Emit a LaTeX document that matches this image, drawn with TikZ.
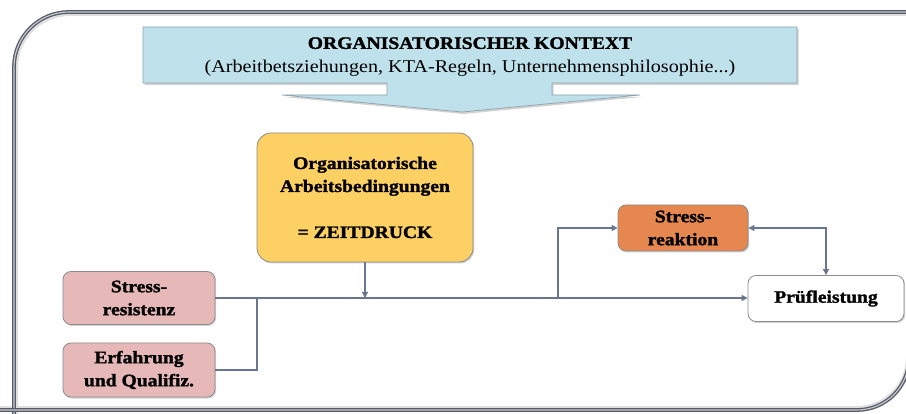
\documentclass[tikz,border=0pt]{standalone}
\usepackage{fontspec}
\setmainfont{Liberation Serif}[FakeStretch=1.12, BoldFeatures={FakeBold=1.5}]
\usetikzlibrary{arrows.meta,shadows,calc}
\definecolor{ctxblue}{HTML}{BEE1EB}
\definecolor{ctxborder}{HTML}{8FA3AE}
\definecolor{yellowf}{HTML}{FCD062}
\definecolor{pinkf}{HTML}{E6B9B8}
\definecolor{orangef}{HTML}{E5874F}
\definecolor{boxborder}{HTML}{8C8C8C}
\definecolor{connc}{HTML}{6A7590}
\definecolor{framec}{HTML}{555B6B}
\tikzset{
  box/.style={draw=boxborder, line width=0.8pt, rounded corners=8pt, align=center,
    font=\bfseries\fontsize{17.5}{23}\selectfont, inner sep=0pt,
    drop shadow={shadow xshift=1.2pt, shadow yshift=-1.5pt, opacity=0.35}},
  connline/.style={draw=connc, line width=1.1pt},
  conn/.style={connline, -{Triangle[width=6pt,length=6pt]}},
  conntwo/.style={connline, {Triangle[width=6pt,length=6pt]}-{Triangle[width=6pt,length=6pt]}},
  frameline/.style={draw=framec, line width=1.3pt, double=gray!40, double distance=1.1pt},
  frameshadow/.style={draw=gray!25, line width=6pt}
}
\begin{document}
\begin{tikzpicture}[x=1pt,y=-1pt]
\useasboundingbox[fill=white] (0,0) rectangle (906,414);
% outer frame
\draw[frameshadow, rounded corners=55pt] (15,440) -- (15,13) -- (930,13);
\draw[frameshadow, rounded corners=52pt] (-10,409) -- (909,409) -- (909,-10);
\draw[frameline, rounded corners=55pt] (14,440) -- (14,12) -- (930,12);
\draw[frameline, rounded corners=52pt] (-10,410) -- (909,410) -- (909,-10);
% context banner arrow
\filldraw[fill=ctxblue, draw=ctxborder, line width=0.7pt,
  drop shadow={shadow xshift=1.5pt, shadow yshift=-2pt, opacity=0.35}]
  (143,27) -- (797,27) -- (797,83) -- (552,83) -- (552,95) -- (640,95) -- (462,112)
  -- (282,95) -- (387,95) -- (387,83) -- (143,83) -- cycle;
\node[align=center, inner sep=0pt, font=\fontsize{18}{24}\selectfont] (ctx) at (470,57)
  {{\fontsize{17.5}{24}\selectfont\textbf{ORGANISATORISCHER KONTEXT}}\\(Arbeitbetsziehungen, KTA-Regeln, Unternehmensphilosophie...)};
% boxes
\node[box, fill=yellowf, minimum width=216pt, minimum height=129pt, rounded corners=14pt] (zeit) at (365,197.5)
  {Organisatorische\\Arbeitsbedingungen\\[23pt]= ZEITDRUCK};
\node[box, fill=pinkf, minimum width=152pt, minimum height=53pt] (stress) at (139,298) {Stress-\\resistenz};
\node[box, fill=pinkf, minimum width=152pt, minimum height=54pt] (erf) at (139,370) {Erfahrung\\und Qualifiz.};
\node[box, fill=orangef, minimum width=130pt, minimum height=46pt] (sr) at (683,228) {Stress-\\reaktion};
\node[box, fill=white, minimum width=156pt, minimum height=46pt] (pruef) at (826,298.5) {Prüfleistung};
% connectors
\coordinate (j2) at (257,298);
\coordinate (j3) at (558,298);
\draw[conn] (zeit.south) -- (zeit.south |- stress.east);
\draw[conn] (stress.east) -- (stress.east -| pruef.west);
\draw[connline] (erf.east) -| (j2);
\draw[conn] (j3) |- (sr.west);
\draw[conntwo] (sr.east) -| (pruef.north);
\end{tikzpicture}
\end{document}
